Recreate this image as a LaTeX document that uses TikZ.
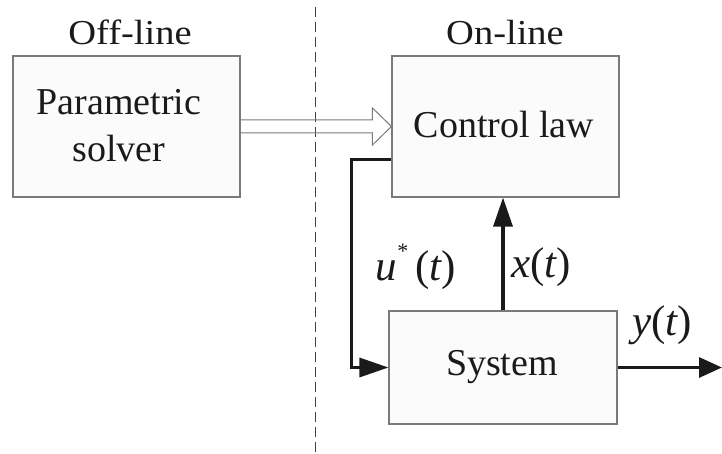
\documentclass[tikz,border=0pt]{standalone}
\usepackage{fontspec}
\setmainfont{Liberation Serif}
\newfontfamily\hdrfont{Liberation Serif}[FakeStretch=1.1]
\usetikzlibrary{arrows.meta,calc,positioning}
\definecolor{boxline}{HTML}{7A7A7A}
\definecolor{boxfill}{HTML}{FBFBFB}
\definecolor{ink}{HTML}{1A1A1A}
\begin{document}
\begin{tikzpicture}[x=1pt,y=-1pt,
  blk/.style={draw=boxline, line width=1.1pt, fill=boxfill, inner sep=0pt},
  txt/.style={font=\fontsize{38}{47}\selectfont, text=ink, inner sep=0pt, align=center},
  hdr/.style={font=\hdrfont\fontsize{35}{40}\selectfont, text=ink, inner sep=0pt},
  lbl/.style={font=\fontsize{43}{46}\selectfont, text=ink, inner sep=0pt},
  sig/.style={draw=ink, line width=3.2pt, -{Triangle[length=29pt,width=19pt]}},
  hollow/.style={draw=boxline, line width=1pt, line join=miter},
  divider/.style={draw=black!75, line width=1pt, dash pattern=on 10pt off 5pt}
]
\useasboundingbox (0,0) rectangle (722,454);
% boxes
\node[blk, minimum width=227pt, minimum height=141pt] (ps) at (126.5,126.5) {};
\node[blk, minimum width=227pt, minimum height=141pt] (cl) at (505.5,126.5) {};
\node[blk, minimum width=228pt, minimum height=113pt] (sys) at (503,367.5) {};
% box texts
\node[txt] (pst) at (119,126) {Parametric\\solver};
\node[txt] (clt) at (504,125) {Control law};
\node[txt] (syst) at (502,367) {System};
% headers
\node[hdr] (off) at (130,32.5) {Off-line};
\node[hdr] (on) at (505,32.5) {On-line};
% divider
\coordinate (dtop) at (315,7);
\coordinate (dbot) at (315,454);
\draw[divider] (dtop) -- (dbot);
% hollow arrow from parametric solver to control law
\coordinate (ha) at ($(ps.east)+(0,-6.5)$);
\coordinate (hb) at ($(cl.west)+(-19,-6.5)$);
\coordinate (hc) at ($(cl.west)+(-19,-18.5)$);
\coordinate (hd) at ($(cl.west)+(-19,18.5)$);
\coordinate (he) at ($(cl.west)+(-19,6.5)$);
\coordinate (hf) at ($(ps.east)+(0,6.5)$);
\draw[hollow] (ha) -- (hb) -- (hc) -- (cl.west) -- (hd) -- (he) -- (hf);
% control signal u*
\coordinate (ustart) at ($(cl.south west)+(0,-38)$);
\draw[sig, line join=miter] (ustart) -- ++(-40,0) |- (sys.west);
% state feedback x
\draw[sig] (sys.north) -- (sys.north |- cl.south);
% output y
\coordinate (yend) at (722,367.5);
\draw[sig, -{Triangle[length=23pt,width=20pt]}] (sys.east) -- (yend);
% labels
\node[lbl] (ulbl) at (416,267) {\itshape u\raisebox{0.5em}{\upshape\fontsize{22}{22}\selectfont *}\upshape\,(\itshape t\upshape)};
\node[lbl] (xlbl) at (541,267) {\itshape x\upshape(\itshape t\upshape)};
\node[lbl] (ylbl) at (662,325) {\itshape y\upshape(\itshape t\upshape)};
\end{tikzpicture}
\end{document}
